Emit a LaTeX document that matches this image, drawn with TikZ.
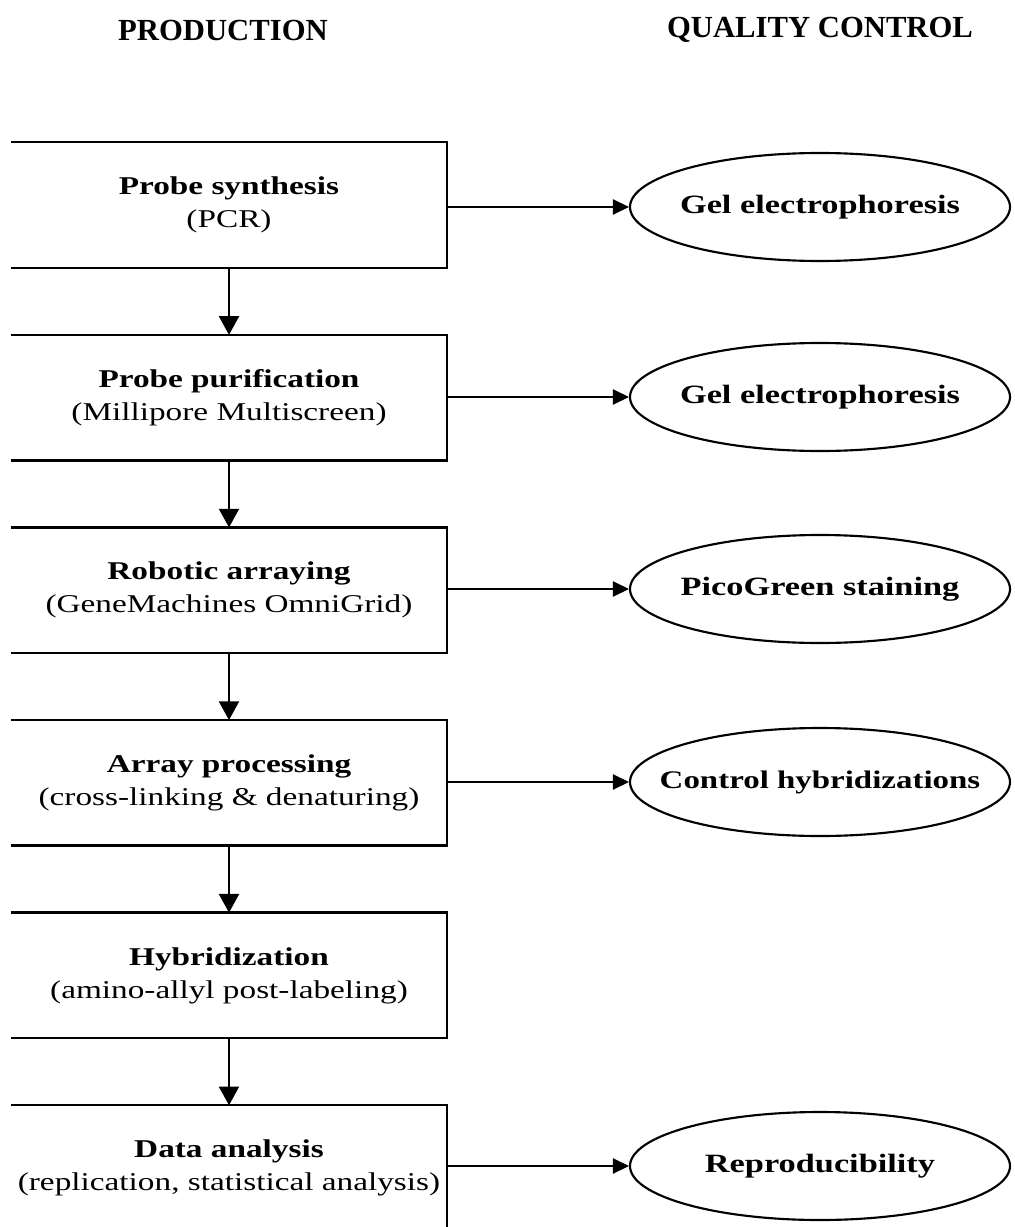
\documentclass[tikz,border=0pt]{standalone}
\usepackage{fontspec}
\setmainfont{Liberation Serif}[FakeStretch=1.3]
\newfontfamily\hdrfont{Liberation Serif}
\usetikzlibrary{arrows.meta,shapes.geometric}
\begin{document}
\begin{tikzpicture}[x=0.75pt,y=-0.75pt,
  procbox/.style={minimum width=327pt,minimum height=93.75pt,inner sep=0pt,align=center,
    font=\fontsize{19.2pt}{24.75pt}\selectfont},
  boxline/.style={line width=1.8pt,line join=miter},
  qcell/.style={ellipse,draw,line width=1.6pt,minimum width=285pt,minimum height=81pt,
    inner sep=0pt,font=\fontsize{19.8pt}{22pt}\selectfont\bfseries},
  flowarrow/.style={line width=1.6pt,-{Triangle[length=14pt,width=15pt]}},
  qcarrow/.style={line width=0.8pt,-{Triangle[length=12pt,width=11.5pt]}},
  hdr/.style={font=\hdrfont\fontsize{23pt}{26pt}\selectfont\bfseries}]
\useasboundingbox (0,0) rectangle (1014,1227);
\clip (0,0) rectangle (1014,1227);

\node[hdr] (hprod) at (223,30) {PRODUCTION};
\node[hdr] (hqc) at (820,30) {QUALITY CONTROL};

\node[procbox] (b1) at (229,205.0) {\textbf{Probe synthesis}\\(PCR)};
\node[procbox] (b2) at (229,397.6) {\textbf{Probe purification}\\(Millipore Multiscreen)};
\node[procbox] (b3) at (229,590.2) {\textbf{Robotic arraying}\\(GeneMachines OmniGrid)};
\node[procbox] (b4) at (229,782.8) {\textbf{Array processing}\\(cross-linking \& denaturing)};
\node[procbox] (b5) at (229,975.4) {\textbf{Hybridization}\\(amino-allyl post-labeling)};
\node[procbox] (b6) at (229,1168.0) {\textbf{Data analysis}\\(replication, statistical analysis)};

\foreach \b in {b1,b2,b3,b4,b5,b6}
  \draw[boxline] (\b.north west) -- (\b.north east) -- (\b.south east) -- (\b.south west);

\node[qcell] (q1) at (820,207) {\makebox[0pt]{Gel electrophoresis}};
\node[qcell] (q2) at (820,397) {\makebox[0pt]{Gel electrophoresis}};
\node[qcell] (q3) at (820,589) {\makebox[0pt]{PicoGreen staining}};
\node[qcell] (q4) at (820,782) {\makebox[0pt]{\fontsize{19pt}{22pt}\selectfont Control hybridizations}};
\node[qcell] (q6) at (820,1166) {\makebox[0pt]{Reproducibility}};

\draw[flowarrow] (b1.south) -- (b2.north);
\draw[flowarrow] (b2.south) -- (b3.north);
\draw[flowarrow] (b3.south) -- (b4.north);
\draw[flowarrow] (b4.south) -- (b5.north);
\draw[flowarrow] (b5.south) -- (b6.north);

\draw[qcarrow] (b1.east |- q1.west) -- (q1.west);
\draw[qcarrow] (b2.east |- q2.west) -- (q2.west);
\draw[qcarrow] (b3.east |- q3.west) -- (q3.west);
\draw[qcarrow] (b4.east |- q4.west) -- (q4.west);
\draw[qcarrow] (b6.east |- q6.west) -- (q6.west);
\end{tikzpicture}
\end{document}
